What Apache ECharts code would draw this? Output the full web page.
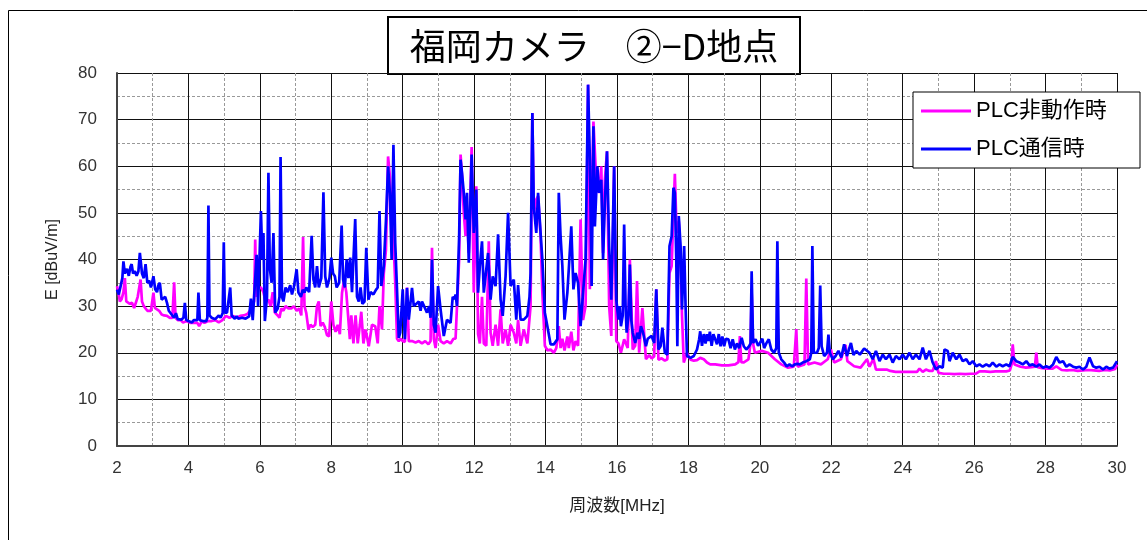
<!DOCTYPE html>
<html>
<head>
<meta charset="utf-8">
<script src="https://cdn.jsdelivr.net/npm/echarts@6/dist/echarts.min.js"></script>
<style>
html,body{margin:0;padding:0;background:#fff;}
#chart{width:1147px;height:540px;}
</style>
</head>
<body>
<div id="chart"></div>
<script>
const titleText = '福岡カメラ　②−D地点';
const seriesNames = ['PLC非動作時', 'PLC通信時'];
const xAxisName = '周波数[MHz]';
const yAxisName = 'E [dBuV/m]';

// PLC非動作時 (magenta): [MHz, dBuV/m]
const pinkData = [
[2.0,34.3],[2.04,33],[2.08,31],[2.13,31.5],[2.18,33],[2.22,36],[2.26,31],[2.3,30.7],[2.36,30.5],[2.42,30.7],[2.48,29.6],[2.53,30],[2.58,32],[2.62,32],[2.66,35.7],[2.7,31],[2.75,30],[2.8,30],[2.85,29],[2.9,28.6],[2.95,29],[3.02,32.9],[3.06,29.6],[3.12,29.3],[3.18,29],[3.25,28.2],[3.32,28],[3.4,27.9],[3.48,27.5],[3.55,27.5],[3.6,35.1],[3.64,27.5],[3.7,27],[3.78,27],[3.85,26.5],[3.95,26.8],[4.05,26.4],[4.15,26.4],[4.25,26.4],[4.3,25.7],[4.38,26.8],[4.45,26.4],[4.55,26.8],[4.65,26.8],[4.75,27],[4.85,26.5],[4.95,27],[5.05,27.9],[5.15,27.5],[5.25,27.9],[5.35,27.5],[5.45,27.9],[5.55,28],[5.65,28.3],[5.72,29],[5.77,29.3],[5.84,31],[5.87,44.3],[5.9,32],[5.95,34],[6.03,34],[6.1,33],[6.16,31],[6.24,31.4],[6.3,30],[6.36,33],[6.42,28.6],[6.5,28],[6.55,27.5],[6.6,29.5],[6.66,29],[6.72,30],[6.8,29.5],[6.88,29.5],[6.95,30],[7.03,29],[7.1,29.5],[7.16,28],[7.21,44.8],[7.25,30],[7.3,28.5],[7.36,25],[7.42,26],[7.48,25.5],[7.55,26],[7.6,30],[7.65,31],[7.7,25.7],[7.76,26.5],[7.82,25.5],[7.88,23.8],[7.94,23.5],[8.0,31],[8.06,26],[8.12,24.5],[8.18,26],[8.24,24],[8.3,32.8],[8.36,35.7],[8.42,33],[8.47,28],[8.52,22.9],[8.56,28],[8.62,22],[8.68,28],[8.74,22],[8.8,26],[8.84,28.8],[8.9,22],[8.96,25],
[9.05,21.4],[9.14,26],[9.23,25.7],[9.3,22],[9.35,30],[9.42,25],[9.47,37],[9.53,42],[9.59,62.1],[9.64,57.9],[9.69,49.3],[9.74,44.3],[9.79,35],[9.84,23],[9.89,22.5],[9.95,23],[10.0,22.5],[10.06,22.3],[10.12,34],[10.17,22.5],[10.26,22.5],[10.36,22.2],[10.45,22.5],[10.54,22],[10.63,22.5],[10.72,21.8],[10.78,22.5],[10.82,42.5],[10.87,23],[10.92,21],[10.99,26],[11.06,22.5],[11.15,22],[11.24,22.5],[11.34,22],[11.42,23],[11.48,23],[11.52,30],[11.58,40],[11.62,62.5],[11.66,58],[11.71,50],[11.76,45],[11.8,50],[11.85,41.4],[11.93,64.1],[11.99,32.9],[12.06,55.7],[12.11,24],[12.16,22],[12.22,32],[12.27,22],[12.34,21.5],[12.41,43.9],[12.46,24.3],[12.52,21.5],[12.6,26],[12.67,21.5],[12.74,29.3],[12.8,22],[12.88,25],[12.95,21.5],[13.02,26],[13.11,24.3],[13.18,22],[13.23,27],[13.3,21.5],[13.39,25],[13.49,22],[13.58,30],[13.63,71.4],[13.67,50],[13.74,52.9],[13.79,53.6],[13.86,45],[13.91,32.9],[13.98,21.5],[14.05,20.5],[14.14,20.7],[14.23,20],[14.3,21],[14.37,25.7],[14.42,21],[14.47,23],[14.53,20.5],[14.61,23.5],[14.65,21],[14.72,24.5],[14.78,20.5],[14.84,22.5],[14.91,21.5],[14.98,48.6],[15.05,27],[15.12,30],[15.19,77.5],[15.24,33.6],[15.34,69.6],[15.4,60],[15.45,55.7],[15.5,54.3],[15.56,60],[15.61,41.4],[15.66,57],[15.72,63.2],[15.78,30],[15.84,23.6],[15.92,60],[15.98,22.5],
[16.04,22],[16.11,20],[16.2,22.9],[16.3,21],[16.36,40],[16.44,20.7],[16.51,21.5],[16.56,35.4],[16.62,20],[16.71,29.6],[16.81,18.6],[16.9,19.5],[16.97,18.8],[17.04,19.2],[17.1,33.6],[17.16,18.5],[17.25,18.8],[17.34,18.3],[17.41,18.6],[17.47,37.1],[17.53,38.6],[17.62,58.4],[17.67,45.7],[17.73,48.2],[17.78,40],[17.82,28],[17.87,17.9],[17.96,20],[18.06,18.5],[18.15,18.3],[18.24,18.4],[18.33,18.9],[18.43,18.6],[18.52,17.9],[18.61,17.5],[18.75,17.5],[18.94,17.3],[19.12,17.3],[19.31,17.5],[19.4,18],[19.44,23.6],[19.48,18],[19.54,17.9],[19.68,18.6],[19.74,22],[19.77,32.9],[19.81,22],[19.86,20],[20.05,20.4],[20.23,20],[20.42,18.6],[20.6,17.5],[20.79,16.8],[20.95,17],[21.02,25.1],[21.06,17],[21.11,17.1],[21.25,17.5],[21.3,35.9],[21.35,17.5],[21.39,17.5],[21.53,17.9],[21.71,17.5],[21.9,18.6],[21.99,20.7],[22.08,17.9],[22.27,18.6],[22.4,21.7],[22.45,18.2],[22.64,17.1],[22.82,16.8],[23.0,18.6],
[23.07,17],[23.18,18.7],[23.25,16.4],[23.4,16.4],[23.55,16.4],[23.65,16.1],[23.8,15.9],[23.95,15.9],[24.1,15.9],[24.25,15.9],[24.4,15.9],[24.47,16.6],[24.56,15.9],[24.65,16.4],[24.75,16.1],[24.84,16.1],[24.93,18.2],[25.0,15.7],[25.15,15.5],[25.3,15.5],[25.45,15.4],[25.6,15.5],[25.75,15.4],[25.9,15.5],[26.05,15.5],[26.15,16],[26.3,16],[26.45,15.9],[26.6,16],[26.75,16],[26.9,16],[27.0,16.2],[27.05,17.5],[27.08,21.8],[27.13,17.5],[27.18,17.1],[27.3,17],[27.45,16.8],[27.6,16.9],[27.7,17],[27.74,20],[27.78,16.9],[27.9,16.7],[28.05,16.6],[28.2,16.6],[28.3,17.1],[28.45,16.3],[28.6,16.2],[28.75,16.3],[28.9,16.1],[29.05,16.2],[29.2,16.3],[29.35,16.2],[29.5,16.1],[29.65,16.3],[29.8,16.2],[29.95,16.5],[30.0,17.5]
];

// PLC通信時 (blue): [MHz, dBuV/m]
const blueData = [
[2.0,33.5],[2.05,32.5],[2.1,32.8],[2.15,36],[2.18,39.6],[2.22,37],[2.28,38],[2.33,36.5],[2.38,38.5],[2.41,39],[2.45,37],[2.5,37.5],[2.55,36.5],[2.6,37.5],[2.64,41.4],[2.7,37],[2.75,36],[2.8,39],[2.85,35],[2.9,35.5],[2.95,34],[3.02,36.4],[3.07,33.6],[3.12,33],[3.16,34.5],[3.2,35],[3.25,31.4],[3.3,31],[3.35,32],[3.4,30.7],[3.45,29],[3.5,28.6],[3.55,28],[3.6,27.5],[3.65,28.5],[3.7,27.2],[3.75,27.5],[3.8,27.1],[3.86,27.5],[3.9,30.7],[3.94,27],[4.0,26.8],[4.05,27.2],[4.1,26.5],[4.15,27],[4.2,26.8],[4.25,27],[4.28,32.9],[4.32,27],[4.4,26.8],[4.45,27],[4.5,26.8],[4.53,27.5],[4.56,51.6],[4.59,28],[4.65,27.5],[4.7,27.8],[4.75,27.2],[4.8,27.5],[4.85,28],[4.9,27.5],[4.96,28.5],[4.99,43.7],[5.02,28.6],[5.08,28.6],[5.13,29],[5.17,34],[5.21,28],[5.3,27.3],[5.35,27.8],[5.4,27.3],[5.5,27.5],[5.6,27.3],[5.7,27.8],[5.75,31.6],[5.8,27],[5.85,27.2],[5.91,41],[5.95,30],[6.03,50.4],[6.07,40],[6.1,45.7],[6.14,26.8],[6.2,32],[6.24,58.6],[6.28,38],[6.33,35],[6.38,45.7],[6.43,28.6],[6.5,29.5],[6.55,32],[6.58,62],[6.62,32],[6.66,31],[6.72,34],[6.78,33],[6.85,34.5],[6.9,32.5],[6.95,34],[7.03,37.9],[7.08,32.9],[7.15,32],[7.2,33.5],[7.25,32.9],[7.3,34],[7.38,33],[7.45,45.1],[7.5,35.7],[7.55,34],[7.6,38.6],[7.65,34],[7.72,36],[7.78,54.4],[7.83,36.4],[7.88,34],[7.95,36],[8.0,40.4],[8.05,37],[8.1,36.4],[8.15,34],[8.22,35],[8.29,47.3],[8.33,35.7],[8.38,34],[8.43,40],[8.48,36],[8.53,40.4],[8.58,33],[8.67,48.7],[8.72,32],[8.77,31],[8.82,34],[8.87,30.5],[8.93,31],[8.98,42.5],
[9.04,31.4],[9.1,33],[9.18,32.5],[9.25,33.5],[9.3,34],[9.35,50.4],[9.4,34.3],[9.47,38.6],[9.53,48.2],[9.59,60],[9.64,54.3],[9.69,40],[9.74,64.6],[9.79,43.6],[9.84,33.6],[9.89,23.2],[9.93,24.3],[10.0,33.6],[10.06,22.9],[10.12,33.9],[10.17,27.1],[10.26,33.9],[10.31,30],[10.36,30],[10.45,31],[10.5,29],[10.54,31],[10.59,31.4],[10.68,28.6],[10.74,30],[10.78,27.5],[10.82,40],[10.87,26],[10.92,24.3],[10.99,34.3],[11.06,29.3],[11.15,23.6],[11.24,27.1],[11.34,26.4],[11.4,32],[11.45,31.5],[11.48,32.5],[11.52,30],[11.58,45],[11.62,61.4],[11.66,58.6],[11.71,54.3],[11.76,48.6],[11.8,54.3],[11.85,39.3],[11.93,62.5],[11.99,45.7],[12.06,55],[12.11,32.9],[12.16,38.6],[12.22,43.9],[12.27,32.9],[12.34,37.9],[12.39,41.4],[12.46,31.4],[12.52,36.4],[12.6,34.3],[12.67,45.4],[12.74,31.4],[12.8,27.9],[12.88,36.4],[12.95,50],[13.02,34.3],[13.11,35.7],[13.18,27.1],[13.23,34.5],[13.3,27.1],[13.39,27.1],[13.49,27.9],[13.55,32],[13.58,37.1],[13.63,71.4],[13.67,51.4],[13.74,45.7],[13.79,54.3],[13.86,45.7],[13.91,40],[13.98,28.6],[14.05,25.7],[14.14,21.8],[14.23,21.8],[14.33,22.9],[14.37,54.3],[14.42,45],[14.47,38.6],[14.53,27.1],[14.61,32.9],[14.65,37.9],[14.72,47.1],[14.78,33.6],[14.84,37.1],[14.91,35],[14.98,25.7],[15.05,32.9],[15.12,40],[15.19,77.5],[15.24,61.4],[15.29,34.3],[15.34,68.6],[15.38,47.1],[15.45,60],[15.5,54.3],[15.56,57.1],[15.61,40],[15.66,52],[15.72,63.2],[15.78,42.9],[15.84,31.4],[15.92,60],[15.98,31.4],[16.04,27.1],
[16.07,30],[16.11,25.7],[16.16,28],[16.2,47.5],[16.24,30],[16.27,24.3],[16.32,28],[16.36,38.9],[16.4,27],[16.44,24.3],[16.51,22.1],[16.57,24.3],[16.62,23],[16.67,25.7],[16.73,24.3],[16.81,21.4],[16.86,23],[16.9,22.9],[16.97,23.6],[17.04,22.1],[17.1,33.6],[17.16,20.7],[17.22,21.4],[17.27,25.4],[17.34,20],[17.41,19.6],[17.47,42.9],[17.53,45],[17.58,55.4],[17.62,54.3],[17.66,40],[17.69,21.4],[17.73,49.3],[17.78,42.9],[17.82,29.3],[17.88,42.9],[17.92,30],[17.96,19.3],[18.06,18.9],[18.15,19.3],[18.24,20.7],[18.3,22.9],[18.33,24.6],[18.38,21.5],[18.43,24],[18.48,22],[18.52,24],[18.56,22.5],[18.6,24.5],[18.65,21.5],[18.7,24],[18.75,23.9],[18.8,21.8],[18.85,24],[18.9,21.4],[18.95,23.5],[19.0,21.4],[19.05,23],[19.12,22.9],[19.18,21],[19.24,22.9],[19.3,20.7],[19.36,22],[19.42,21],[19.49,23.2],[19.55,21.4],[19.62,20.7],[19.7,21.4],[19.74,22],[19.77,37.5],[19.81,22.1],[19.88,22.9],[19.95,21.5],[20.0,22.1],[20.07,23],[20.12,21],[20.18,22],[20.25,22.9],[20.32,20.7],[20.4,20],[20.46,21],[20.49,43.9],[20.53,20],[20.6,18.6],[20.68,17.9],[20.75,17.1],[20.83,17.5],[20.9,17.1],[20.98,17.5],[21.05,17.6],[21.12,17.5],[21.2,17.9],[21.3,18.2],[21.4,18.6],[21.44,20],[21.47,42.9],[21.51,20],[21.6,20],[21.65,21],[21.69,34.4],[21.73,21.4],[21.8,19.3],[21.88,20],[21.92,23.9],[21.96,20],[22.04,18.6],[22.12,19.3],[22.2,20.4],[22.28,19],[22.36,21.8],[22.44,19.3],[22.55,22.1],[22.62,19.5],[22.7,20.4],[22.8,19.6],[22.92,20.9],
[22.97,20.7],[23.07,20],[23.16,18.6],[23.25,20.4],[23.35,18.2],[23.44,19.6],[23.53,18.6],[23.63,19.6],[23.72,17.9],[23.81,19.3],[23.91,18.6],[24.0,19.6],[24.09,18.6],[24.19,20],[24.28,18.6],[24.37,19.6],[24.47,18.6],[24.56,21.1],[24.65,18.6],[24.75,20.4],[24.84,17.9],[24.93,16.4],[25.03,17.1],[25.12,16.8],[25.17,20.7],[25.26,20.4],[25.31,18.2],[25.4,20],[25.5,18.6],[25.59,19.6],[25.68,18.2],[25.78,18.6],[25.87,17.5],[25.96,18.2],[26.06,17.1],[26.15,17.5],[26.24,17],[26.34,17.5],[26.43,17.1],[26.52,17.9],[26.62,17],[26.71,17.5],[26.8,17.1],[26.9,17.5],[26.99,17.1],[27.08,19.1],[27.18,18.2],[27.27,17.9],[27.36,17.5],[27.46,18.2],[27.55,17.3],[27.64,17.5],[27.74,17],[27.83,17.5],[27.93,16.8],[28.02,17.1],[28.11,16.8],[28.21,17.5],[28.3,19.1],[28.39,17.9],[28.49,18.2],[28.58,17],[28.67,17.5],[28.77,17],[28.86,16.8],[28.95,17],[29.05,16.4],[29.14,17],[29.23,19],[29.33,17.1],[29.42,16.8],[29.51,17],[29.61,16.4],[29.7,17],[29.79,16.6],[29.89,16.8],[30.0,18.2]
];

const xTicks = {min: 2, max: 30, interval: 2};
const yTicks = {min: 0, max: 80, interval: 10};

const FONT = "'Liberation Sans', 'Noto Sans CJK JP', sans-serif";
const chart = echarts.init(document.getElementById('chart'), null, {renderer: 'canvas'});

chart.setOption({
  backgroundColor: '#ffffff',
  animation: false,
  textStyle: {fontFamily: FONT},
  grid: {left: 117, right: 30, top: 73, bottom: 94, containLabel: false},
  legend: {
    orient: 'vertical',
    left: 913, top: 92,
    padding: [6, 8, 6, 8],
    itemGap: 12,
    itemWidth: 50,
    itemHeight: 3,
    icon: 'rect',
    backgroundColor: '#ffffff',
    borderColor: '#000000',
    borderWidth: 1,
    z: 20,
    textStyle: {fontSize: 22, lineHeight: 26, color: '#000', width: 156, fontFamily: FONT},
    data: seriesNames
  },
  xAxis: {
    type: 'value',
    min: xTicks.min, max: xTicks.max, interval: xTicks.interval,
    name: xAxisName,
    nameLocation: 'middle',
    nameGap: 52,
    nameTextStyle: {fontSize: 17, color: '#222', fontFamily: FONT},
    axisLine: {show: true, lineStyle: {color: '#444', width: 2}},
    axisTick: {show: false},
    axisLabel: {fontSize: 17, color: '#333', margin: 14, fontFamily: FONT},
    splitLine: {show: true, lineStyle: {color: '#111', width: 1}},
    minorTick: {show: false, splitNumber: 2},
    minorSplitLine: {show: true, lineStyle: {color: '#999', width: 1, type: [3, 2]}}
  },
  yAxis: {
    type: 'value',
    min: yTicks.min, max: yTicks.max, interval: yTicks.interval,
    name: yAxisName,
    nameLocation: 'middle',
    nameRotate: 90,
    nameGap: 56,
    nameTextStyle: {fontSize: 16, color: '#222', fontFamily: FONT},
    axisLine: {show: true, lineStyle: {color: '#444', width: 2}},
    axisTick: {show: false},
    axisLabel: {fontSize: 17, color: '#333', margin: 20, fontFamily: FONT},
    splitLine: {show: true, lineStyle: {color: '#111', width: 1}},
    minorTick: {show: false, splitNumber: 2},
    minorSplitLine: {show: true, lineStyle: {color: '#999', width: 1, type: [3, 2]}}
  },
  series: [
    {
      name: seriesNames[0], type: 'line', data: pinkData,
      symbol: 'none', smooth: false,
      lineStyle: {color: '#ff00ff', width: 2.7},
      itemStyle: {color: '#ff00ff'},
      z: 3
    },
    {
      name: seriesNames[1], type: 'line', data: blueData,
      symbol: 'none', smooth: false,
      lineStyle: {color: '#0000ff', width: 2.7},
      itemStyle: {color: '#0000ff'},
      z: 4
    }
  ],
  graphic: [
    {
      type: 'rect', z: 0, silent: true,
      shape: {x: 8.5, y: 10.5, width: 1160, height: 560},
      style: {fill: 'none', stroke: '#000', lineWidth: 1}
    },
    {
      type: 'group', z: 30,
      children: [
        {
          type: 'rect',
          shape: {x: 388, y: 17, width: 412, height: 57},
          style: {fill: '#fff', stroke: '#000', lineWidth: 2}
        },
        {
          type: 'text',
          x: 594, y: 46,
          style: {
            text: titleText,
            font: "36px 'Noto Sans CJK JP', sans-serif",
            fill: '#000',
            align: 'center',
            verticalAlign: 'middle'
          }
        }
      ]
    }
  ]
});
</script>
</body>
</html>
